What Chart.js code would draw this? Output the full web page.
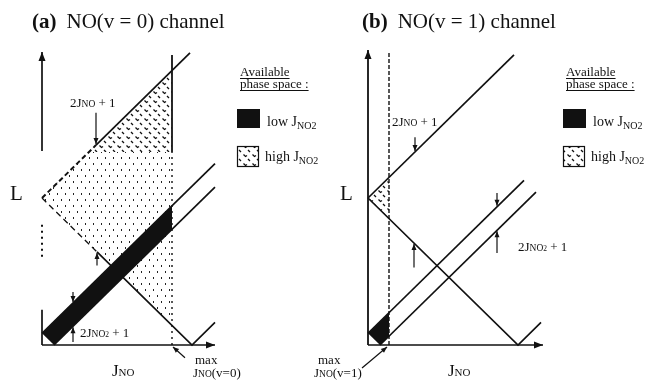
<!DOCTYPE html>
<html>
<head>
<meta charset="utf-8">
<script src="https://cdn.jsdelivr.net/npm/chart.js@4.4.1/dist/chart.umd.min.js"></script>
<style>
  html, body { margin: 0; padding: 0; background: #fff; }
  #wrap { position: relative; width: 647px; height: 381px; }
</style>
</head>
<body>
<div id="wrap"><canvas id="phase-space"></canvas></div>
<script>
// Points, in drawing units: x = J_NO, y = L.
// Panel (a): NO(v = 0) channel
const aYAxisTop = [[0, 19.8], [0, 29.9]];
const aYAxisDots = [[0, 9], [0, 12.5]];
const aYAxisLow = [[0, 3.6], [0, 0]];
const aXAxis = [[0, 0], [17.3, 0]];
const aUpperDash = [[0, 15], [5.4, 20.4]];
const aUpper = [[5.4, 20.4], [14.8, 29.8]];
const aDownDash = [[0, 15], [5.5, 9.5]];
const aDown = [[5.5, 9.5], [15, 0], [17.3, 2.3]];
const aStripTop = [[0, 1.2], [17.3, 18.5]];
const aStripBottom = [[1.2, 0], [17.3, 16.1]];
const aMaxSolid = [[13, 19.7], [13, 29.6]];
const aMaxDots = [[13, 0], [13, 19.7]];
const aLowArea = [[0, 1.2], [1.2, 0], [13, 11.8], [13, 14.2], [0, 1.2]];
const aHighArea = [[4.7, 19.7], [13, 28], [13, 19.7], [4.7, 19.7]];
const aMidArea = [[0, 15], [4.7, 19.7], [13, 19.7], [13, 2], [0, 15]];
const aPointers = [
  [[5.4, 23.7], [5.4, 20.5]],
  [[3.1, 0.3], [3.1, 1.8]],
  [[5.5, 8.1], [5.5, 9.4]],
  [[3.1, 5.4], [3.1, 4.4]],
  [[14.3, -1.3], [13.1, -0.2]]
];

// Panel (b): NO(v = 1) channel
const bYAxis = [[0, 0], [0, 30.1]];
const bXAxis = [[0, 0], [17.5, 0]];
const bMaxLine = [[2.1, 0], [2.1, 29.9]];
const bUpper = [[0, 15], [14.6, 29.6]];
const bDown = [[0, 15], [15, 0], [17.3, 2.3]];
const bStripTop = [[0, 1.2], [15.6, 16.8]];
const bStripBottom = [[1.2, 0], [16.8, 15.6]];
const bLowArea = [[0, 1.2], [1.2, 0], [2.1, 0.9], [2.1, 3.3], [0, 1.2]];
const bHighArea = [[0, 15], [2.1, 17.1], [2.1, 12.9], [0, 15]];
const bPointers = [
  [[4.7, 21.2], [4.7, 19.8]],
  [[12.9, 15.5], [12.9, 14.2]],
  [[12.9, 9.4], [12.9, 11.6]],
  [[4.6, 7.9], [4.6, 10.3]],
  [[-0.6, -2.35], [1.9, -0.2]]
];

const INK = '#111';
const SERIF = '"Liberation Serif", "DejaVu Serif", serif';

function makePattern(w, h, draw) {
  const c = document.createElement('canvas');
  c.width = w;
  c.height = h;
  const g = c.getContext('2d');
  draw(g);
  return g.createPattern(c, 'repeat');
}

// zigzag texture = high J_NO2
const zigzag = makePattern(9, 9, g => {
  g.strokeStyle = INK;
  g.lineWidth = 1.3;
  g.beginPath();
  g.moveTo(0.5, 1.5); g.lineTo(2.5, 3.5); g.lineTo(4, 2.5);
  g.moveTo(5, 6); g.lineTo(7, 8);
  g.stroke();
});
// sparse stipple
const stipple = makePattern(8, 12, g => {
  g.fillStyle = '#222';
  g.fillRect(1, 1, 1, 2);
  g.fillRect(5, 7, 1, 2);
});

const pts = a => a.map(([x, y]) => ({ x, y }));

function line(data, axis, extra) {
  return Object.assign({
    data: pts(data),
    xAxisID: axis,
    yAxisID: 'y',
    showLine: true,
    borderColor: INK,
    borderWidth: 1.7,
    pointRadius: 0,
    fill: false,
    order: 0
  }, extra || {});
}

function area(data, axis, bg, order) {
  return line(data, axis, { fill: 'shape', backgroundColor: bg, borderWidth: 0, borderColor: 'rgba(0,0,0,0)', order });
}

const axisHead = { len: 9, wid: 3.5 };
const smallHead = { len: 6, wid: 2.5 };

const datasets = [
  // panel (a)
  area(aMidArea, 'xa', stipple, 30),
  area(aHighArea, 'xa', zigzag, 20),
  area(aLowArea, 'xa', INK, 10),
  line(aYAxisTop, 'xa', { arrow: axisHead }),
  line(aYAxisDots, 'xa', { borderDash: [2, 4], borderWidth: 2 }),
  line(aYAxisLow, 'xa'),
  line(aXAxis, 'xa', { arrow: axisHead }),
  line(aUpperDash, 'xa', { borderDash: [5, 3], borderWidth: 2 }),
  line(aUpper, 'xa'),
  line(aDownDash, 'xa', { borderDash: [6, 4], borderWidth: 1.3 }),
  line(aDown, 'xa'),
  line(aStripTop, 'xa'),
  line(aStripBottom, 'xa'),
  line(aMaxSolid, 'xa', { borderWidth: 1.8 }),
  line(aMaxDots, 'xa', { borderDash: [2, 4], borderWidth: 1.4 }),
  ...aPointers.map(p => line(p, 'xa', { borderWidth: 1.2, arrow: smallHead })),
  // panel (b)
  area(bHighArea, 'xb', zigzag, 20),
  area(bLowArea, 'xb', INK, 10),
  line(bYAxis, 'xb', { arrow: axisHead, borderWidth: 1.8 }),
  line(bXAxis, 'xb', { arrow: axisHead }),
  line(bMaxLine, 'xb', { borderDash: [4, 2], borderWidth: 1.4 }),
  line(bUpper, 'xb'),
  line(bDown, 'xb'),
  line(bStripTop, 'xb'),
  line(bStripBottom, 'xb'),
  ...bPointers.map(p => line(p, 'xb', { borderWidth: 1.2, arrow: smallHead }))
];

// arrow heads at the last point of flagged datasets
const arrowHeads = {
  id: 'arrowHeads',
  afterDatasetsDraw(chart) {
    const ctx = chart.ctx;
    chart.data.datasets.forEach((ds, i) => {
      if (!ds.arrow) return;
      const el = chart.getDatasetMeta(i).data;
      const p1 = el[el.length - 2], p2 = el[el.length - 1];
      const ang = Math.atan2(p2.y - p1.y, p2.x - p1.x);
      ctx.save();
      ctx.fillStyle = INK;
      ctx.translate(p2.x, p2.y);
      ctx.rotate(ang);
      ctx.beginPath();
      ctx.moveTo(0, 0);
      ctx.lineTo(-ds.arrow.len, -ds.arrow.wid);
      ctx.lineTo(-ds.arrow.len, ds.arrow.wid);
      ctx.closePath();
      ctx.fill();
      ctx.restore();
    });
  }
};

function rich(ctx, x, y, parts) {
  let cx = x;
  parts.forEach(p => {
    ctx.font = (p.b ? 'bold ' : '') + p.s + 'px ' + SERIF;
    ctx.fillText(p.t, cx, y + (p.dy || 0));
    cx += ctx.measureText(p.t).width;
  });
  return cx;
}

const panels = [
  { axis: 'xa', tag: '(a)', title: 'NO(v = 0) channel', v: '(v=0)', titleDx: -10, lDx: -32, jDx: 70,
    maxDx: 153, maxJDx: 151, nuDx: 28, nuDy: -238, n2Dx: 38, n2Dy: -8, legDx: 195 },
  { axis: 'xb', tag: '(b)', title: 'NO(v = 1) channel', v: '(v=1)', titleDx: -6, lDx: -28, jDx: 80,
    maxDx: -50, maxJDx: -54, nuDx: 24, nuDy: -219, n2Dx: 150, n2Dy: -94, legDx: 195 }
];

const sketchText = {
  id: 'sketchText',
  afterDraw(chart) {
    const ctx = chart.ctx;
    const oy = chart.scales.y.getPixelForValue(0);
    ctx.save();
    ctx.fillStyle = INK;
    ctx.strokeStyle = INK;
    ctx.textBaseline = 'alphabetic';
    panels.forEach(p => {
      const ox = chart.scales[p.axis].getPixelForValue(0);
      // title
      const x = rich(ctx, ox + p.titleDx, oy - 317, [{ t: p.tag, s: 21, b: true }]);
      rich(ctx, x + 10, oy - 317, [{ t: p.title, s: 21 }]);
      // axis names
      rich(ctx, ox + p.lDx, oy - 145, [{ t: 'L', s: 21 }]);
      rich(ctx, ox + p.jDx, oy + 31, [{ t: 'J', s: 17 }, { t: 'NO', s: 11 }]);
      // max J_NO
      rich(ctx, ox + p.maxDx, oy + 19, [{ t: 'max', s: 13 }]);
      rich(ctx, ox + p.maxJDx, oy + 32, [{ t: 'J', s: 13 }, { t: 'NO', s: 9.5 }, { t: p.v, s: 13 }]);
      // line annotations
      rich(ctx, ox + p.nuDx, oy + p.nuDy, [{ t: '2J', s: 13 }, { t: 'NO', s: 9.5 }, { t: ' + 1', s: 13 }]);
      rich(ctx, ox + p.n2Dx, oy + p.n2Dy, [{ t: '2J', s: 13 }, { t: 'NO', s: 9.5 }, { t: '2', s: 7.5 }, { t: ' + 1', s: 13 }]);
      // legend
      const lx = ox + p.legDx;
      [['Available', -269], ['phase space :', -257]].forEach(([t, dy]) => {
        const end = rich(ctx, lx + 3, oy + dy, [{ t, s: 13 }]);
        ctx.lineWidth = 1;
        ctx.beginPath();
        ctx.moveTo(lx + 3, oy + dy + 2.5);
        ctx.lineTo(end, oy + dy + 2.5);
        ctx.stroke();
      });
      ctx.fillRect(lx, oy - 236, 23, 19);
      rich(ctx, lx + 30, oy - 219, [{ t: 'low J', s: 14 }, { t: 'NO2', s: 10, dy: 3 }]);
      ctx.fillStyle = zigzag;
      ctx.fillRect(lx, oy - 199, 22, 21);
      ctx.fillStyle = INK;
      ctx.lineWidth = 1.2;
      ctx.strokeRect(lx + 0.5, oy - 198.5, 21, 20);
      rich(ctx, lx + 28, oy - 184, [{ t: 'high J', s: 14 }, { t: 'NO2', s: 10, dy: 3 }]);
    });
    ctx.restore();
  }
};

new Chart(document.getElementById('phase-space'), {
  type: 'scatter',
  data: { datasets },
  options: {
    responsive: true,
    maintainAspectRatio: false,
    animation: false,
    events: [],
    layout: { padding: 0 },
    scales: {
      xa: { axis: 'x', type: 'linear', display: false, min: -4.2, max: 60.5 },
      xb: { axis: 'x', type: 'linear', display: false, min: -36.8, max: 27.9 },
      y: { axis: 'y', type: 'linear', display: false, min: -3.673, max: 35.204 }
    },
    plugins: {
      legend: { display: false },
      tooltip: { enabled: false }
    }
  },
  plugins: [arrowHeads, sketchText]
});
</script>
</body>
</html>
